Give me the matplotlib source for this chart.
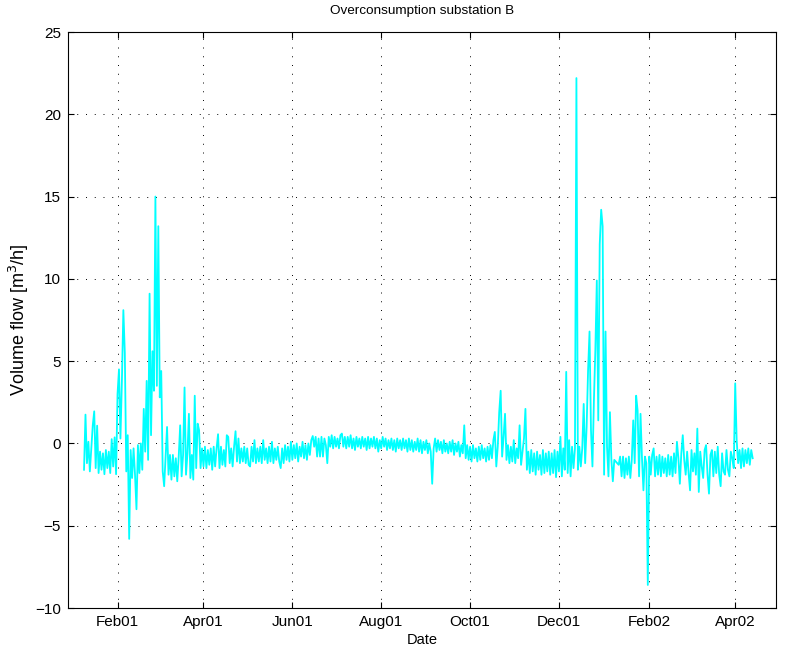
import numpy as np
import matplotlib
matplotlib.use('Agg')
import matplotlib.pyplot as plt

# daily readings starting 2001-01-09
start_date = '2001-01-09'
flow = [
    -1.6, 1.75, -1.2, 0.1, -1.7, -0.3, 1.1, 1.95, -1.5, 1.08,
    -1.8, -0.5, -1.6, -0.6, -1.87, -0.4, -1.5, -0.5, -1.8, 0.26,
    -1.4, 0.37, -1.87, 3.0, 4.5, 0.3, 3.8, 8.1, 5.5, -1.7,
    0.5, -5.8, -0.4, -2.1, -0.3, -1.9, -4.0, -0.1, -1.8, 0.0,
    -1.6, 2.1, -0.5, 3.8, -1.0, 9.1, 0.5, 5.6, 3.2, 15.0,
    3.5, 13.2, 2.8, 4.4, -1.7, -2.6, -0.8, 1.0, -1.9, -0.7,
    -2.2, -0.7, -2.0, -0.9, -2.3, -0.8, 1.1, -2.0, -0.7, 3.4,
    -1.9, -0.6, 1.8, -2.1, -0.7, -2.2, 2.9, -1.5, 1.2, 0.8,
    -1.5, -0.3, -1.4, -0.2, -1.5, -0.4, -1.3, -0.3, -1.6, -0.2,
    -1.4, -0.3, 0.56, -1.5, -0.2, -1.3, -0.4, -1.4, 0.5, 0.4,
    -1.2, -0.3, -1.4, -0.2, 0.74, -1.1, 0.3, -1.2, -0.3, -1.1,
    -0.2, -1.2, -0.3, -1.3, -1.4, -0.2, -1.1, 0.2, -1.2, -0.3,
    -1.1, -0.2, -1.2, 0.2, -1.0, -0.3, -1.2, -0.2, -1.1, 0.1,
    -1.2, -0.3, -1.0, -0.2, -1.1, -1.5, -0.3, -1.2, -0.1, -1.0,
    -0.2, -1.1, 0.1, -1.0, -0.1, -0.9, 0.0, -1.1, -0.2, -0.8,
    0.1, -0.9, -0.1, -1.0, 0.0, -0.7, 0.2, 0.45, -0.2, 0.4,
    -0.8, 0.3, -0.8, 0.4, -0.8, 0.3, -0.1, -1.2, 0.4, -0.2,
    0.5, -0.3, 0.4, -0.2, 0.3, -0.3, 0.5, 0.6, -0.2, 0.4,
    -0.3, 0.4, -0.2, 0.5, -0.3, 0.3, -0.4, 0.4, -0.2, 0.3,
    -0.3, 0.4, -0.2, 0.3, -0.4, 0.4, -0.3, 0.3, -0.2, 0.4,
    -0.3, 0.3, -0.5, 0.2, -0.3, 0.4, -0.2, 0.3, -0.4, 0.2,
    -0.3, 0.3, -0.4, 0.2, -0.5, 0.3, -0.3, 0.2, -0.4, 0.3,
    -0.3, 0.2, -0.5, 0.3, -0.4, 0.2, -0.5, 0.1, -0.4, 0.3,
    -0.5, 0.2, -0.6, 0.1, -0.4, 0.2, -0.6, 0.0, -0.5, -2.45,
    -0.3, 0.3, -0.5, 0.2, -0.4, 0.1, -0.6, 0.2, -0.5, 0.0,
    -0.6, 0.1, -0.5, 0.2, -0.7, 0.0, -0.5, 0.1, -0.8, -0.1,
    -0.6, 1.1, -0.9, -0.1, -1.0, -0.2, -1.1, -0.1, -0.9, -0.3,
    -1.1, -0.2, -1.0, -0.1, -0.9, -0.3, -1.1, -0.2, -1.0, -0.1,
    -0.9, 0.2, 0.7, -1.4, -0.2, 1.9, 3.2, -0.8, 0.4, 1.8,
    -1.0, -0.1, -1.2, -0.2, -1.1, 0.2, -1.2, -0.3, -0.9, 1.1,
    -1.3, -0.5, 0.3, 2.1, -1.6, -0.5, -1.8, -0.4, -1.7, -0.6,
    -1.9, -0.5, -1.6, -0.7, -1.9, -0.4, -1.8, -0.6, -1.7, -0.5,
    -1.9, -0.6, -1.8, -0.4, -2.05, -0.5, -1.7, 0.4, -2.0, -0.3,
    -1.6, 4.35, -1.8, 0.2, -2.0, -0.2, -1.5, -0.3, 22.2, -1.6,
    -0.2, -1.4, -0.3, 2.4, -1.2, 1.0, 4.45, 6.8, 0.8, -1.4,
    2.6, 5.7, 9.9, 1.4, 12.1, 14.2, 13.2, -1.9, 6.8, -0.2,
    -2.0, 1.9, -1.0, -2.3, -1.0, -1.1, -1.2, -1.3, -0.8, -2.0,
    -0.8, -2.1, -0.9, -1.9, -0.8, -2.1, -1.0, 1.4, -1.2, 2.9,
    2.0, -2.0, 1.8, -0.9, -2.85, -0.8, -1.2, -8.6, -0.8, -1.9,
    -0.7, -0.3, -2.0, -0.8, -1.9, -0.7, -2.0, -0.8, -1.8, -0.9,
    -2.0, -0.7, -1.9, -0.8, -2.0, -0.6, -1.8, 0.1, -0.9, -2.45,
    -0.6, 0.5, -1.0, -1.9, -0.5, -1.8, -2.85, -0.4, -1.7, -0.6,
    -1.9, 0.9, -2.95, -0.5, -1.4, -2.1, -0.4, -0.1, -1.9, -3.05,
    -0.7, -0.4, -2.0, -0.5, -1.8, -0.2, -1.9, -2.6, -0.6, -1.7,
    -1.9, -0.4, -1.6, -2.0, -0.5, -0.9, -1.5, 3.65, 0.2, -1.2,
    -0.4, -1.5, -0.3, -1.4, -0.4, -1.2, -0.3, -1.3, -0.4, -0.9,
]

tick_dates = ['2001-02-01', '2001-04-01', '2001-06-01', '2001-08-01',
              '2001-10-01', '2001-12-01', '2002-02-01', '2002-04-01']
tick_labels = ['Feb01', 'Apr01', 'Jun01', 'Aug01', 'Oct01', 'Dec01', 'Feb02', 'Apr02']
y_ticks = [-10, -5, 0, 5, 10, 15, 20, 25]

plt.rcParams['font.family'] = ['Liberation Sans', 'DejaVu Sans']
plt.rcParams['font.size'] = 11


def main():
    dates = np.datetime64(start_date) + np.arange(len(flow)).astype('timedelta64[D]')
    fig = plt.figure(figsize=(7.92, 6.52), dpi=100)
    ax = fig.add_axes([68/792, 44/652, 708/792, 576/652])
    ax.plot(dates, flow, color='cyan', lw=1.3)

    ax.set_xlim(np.datetime64('2000-12-29'), np.datetime64('2002-04-29'))
    ax.set_ylim(-10, 25)
    ax.set_xticks([np.datetime64(d) for d in tick_dates])
    ax.set_xticklabels(tick_labels)
    ax.set_yticks(y_ticks)
    ax.grid(True, color='black', linestyle=(0, (1, 8)), linewidth=0.7)
    ax.tick_params(direction='in', length=4, top=True, right=True, pad=5)
    for s in ax.spines.values():
        s.set_linewidth(0.8)

    ax.set_title('Overconsumption substation B', fontsize=9.7, pad=13)
    ax.set_xlabel('Date', fontsize=10.5, labelpad=3)
    ax.set_ylabel('Volume flow [m$^3$/h]', fontsize=13, labelpad=3)
    fig.savefig('out.png', dpi=100)


if __name__ == '__main__':
    main()
